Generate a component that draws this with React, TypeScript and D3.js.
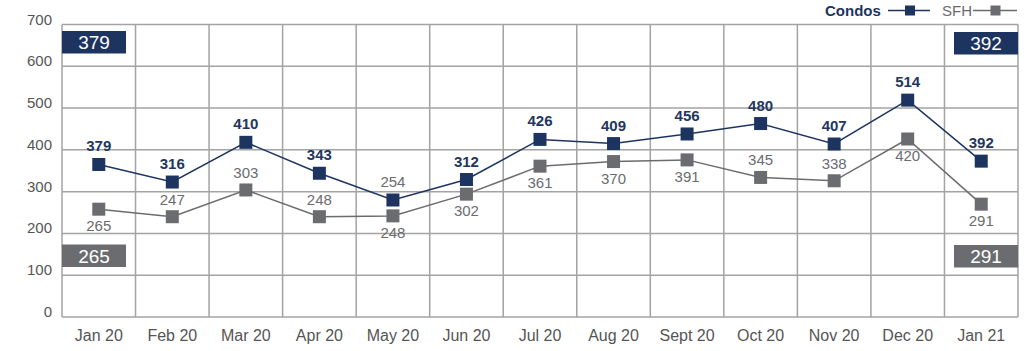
import React from "react";
import * as d3 from "d3";

const months = ["Jan 20", "Feb 20", "Mar 20", "Apr 20", "May 20", "Jun 20", "Jul 20", "Aug 20", "Sept 20", "Oct 20", "Nov 20", "Dec 20", "Jan 21"];
// plotted positions
const condoValues = [365, 323, 418, 344, 280, 329, 425, 415, 438, 463, 414, 519, 373];
const sfhValues = [258, 240, 304, 240, 242, 294, 361, 372, 376, 334, 326, 426, 270];
// printed labels
const condoLabels = ["379", "316", "410", "343", "254", "312", "426", "409", "456", "480", "407", "514", "392"];
const sfhLabels = ["265", "247", "303", "248", "248", "302", "361", "370", "391", "345", "338", "420", "291"];
const sfhLabelAbove = [false, true, true, true, false, false, false, false, false, true, true, false, false];
const condoLabelMuted = [false, false, false, false, true, false, false, false, false, false, false, false, false];
const yTicks = [0, 100, 200, 300, 400, 500, 600, 700];
const firstCondo = "379";
const firstSfh = "265";
const lastCondo = "392";
const lastSfh = "291";

const NAVY = "#1d3461";
const GRAY = "#6b6c6f";
const GRID = "#a3a3a3";
const FONT = "'Liberation Sans', Arial, Helvetica, sans-serif";

export default function App() {
  const W = 1024, H = 351;
  const left = 62, right = 1018, top = 24.5, bottom = 317;
  const x = d3.scaleBand<string>().domain(months).range([left, right]).padding(0);
  const y = d3.scaleLinear().domain([0, 700]).range([bottom, top]);
  const cx = (m: string) => (x(m) as number) + x.bandwidth() / 2;
  const line = d3.line<number>().x((_, i) => cx(months[i])).y((v) => y(v));
  const sq = 13;

  const boxW = 64, boxH = 22.5;
  return (
    <svg width={W} height={H} style={{ position: "absolute", left: 0, top: 0, background: "#fff" }} fontFamily={FONT}>
      {/* horizontal grid */}
      {yTicks.map((t) => (
        <g key={t}>
          <line x1={left} x2={right} y1={y(t)} y2={y(t)} stroke={GRID} strokeWidth={1.5} />
          <text x={52} y={y(t)} textAnchor="end" fontSize={15} fill="#555">{t}</text>
        </g>
      ))}
      {/* vertical grid */}
      {months.map((m) => (
        <line key={m} x1={x(m) as number} x2={x(m) as number} y1={top} y2={bottom} stroke={GRID} strokeWidth={1.5} />
      ))}
      <line x1={right} x2={right} y1={top} y2={bottom} stroke={GRID} strokeWidth={1.5} />
      {/* x labels */}
      {months.map((m) => (
        <text key={m} x={cx(m)} y={341} textAnchor="middle" fontSize={16} fill="#555">{m}</text>
      ))}
      {/* lines */}
      <path d={line(sfhValues) as string} fill="none" stroke={GRAY} strokeWidth={1.5} />
      <path d={line(condoValues) as string} fill="none" stroke={NAVY} strokeWidth={1.5} />
      {sfhValues.map((v, i) => (
        <rect key={"s" + i} x={cx(months[i]) - sq / 2} y={y(v) - sq / 2} width={sq} height={sq} fill={GRAY} />
      ))}
      {condoValues.map((v, i) => (
        <rect key={"c" + i} x={cx(months[i]) - sq / 2} y={y(v) - sq / 2} width={sq} height={sq} fill={NAVY} />
      ))}
      {/* labels */}
      {condoLabels.map((l, i) => (
        <text key={"cl" + i} x={cx(months[i])} y={y(condoValues[i]) - 13} textAnchor="middle" fontSize={15}
          fontWeight={condoLabelMuted[i] ? 400 : 700} fill={condoLabelMuted[i] ? GRAY : "#23365e"}>{l}</text>
      ))}
      {sfhLabels.map((l, i) => (
        <text key={"sl" + i} x={cx(months[i])} y={sfhLabelAbove[i] ? y(sfhValues[i]) - 12 : y(sfhValues[i]) + 22}
          textAnchor="middle" fontSize={15} fill={GRAY}>{l}</text>
      ))}
      {/* boxes */}
      <rect x={left} y={31} width={boxW} height={boxH} fill={NAVY} />
      <text x={left + boxW / 2} y={49} textAnchor="middle" fontSize={19} fill="#fff">{firstCondo}</text>
      <rect x={left} y={244.5} width={boxW} height={boxH} fill={GRAY} />
      <text x={left + boxW / 2} y={262.5} textAnchor="middle" fontSize={19} fill="#fff">{firstSfh}</text>
      <rect x={right - boxW} y={32} width={boxW} height={boxH} fill={NAVY} />
      <text x={right - boxW / 2} y={50} textAnchor="middle" fontSize={19} fill="#fff">{lastCondo}</text>
      <rect x={right - boxW} y={245} width={boxW} height={boxH} fill={GRAY} />
      <text x={right - boxW / 2} y={263} textAnchor="middle" fontSize={19} fill="#fff">{lastSfh}</text>
      {/* legend */}
      <text x={825} y={15.5} fontSize={15} fontWeight={700} fill={NAVY}>Condos</text>
      <line x1={888} x2={930} y1={10.5} y2={10.5} stroke={NAVY} strokeWidth={1.5} />
      <rect x={905} y={5.5} width={10} height={10} fill={NAVY} />
      <text x={942} y={15.5} fontSize={15} fill={GRAY}>SFH</text>
      <line x1={973} x2={1017} y1={10.5} y2={10.5} stroke={GRAY} strokeWidth={1.5} />
      <rect x={990.5} y={5.5} width={10} height={10} fill={GRAY} />
    </svg>
  );
}
